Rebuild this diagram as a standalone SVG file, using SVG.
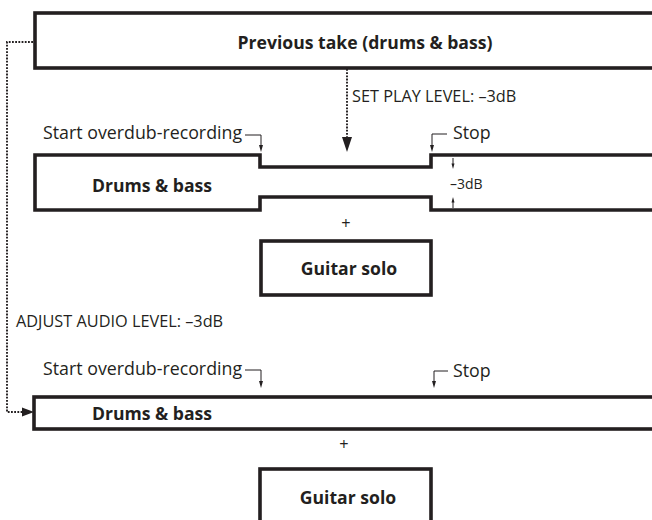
<svg xmlns="http://www.w3.org/2000/svg" width="652" height="520" viewBox="0 0 652 520">
<style>
.box{fill:#fff;stroke:#231f20;stroke-width:3.6;stroke-linejoin:miter}
.lbl{font-family:"Open Sans","Liberation Sans",sans-serif;font-weight:bold;font-size:17.6px;fill:#231f20;text-anchor:middle}
.txt{font-family:"Open Sans","Liberation Sans",sans-serif;font-size:17.8px;fill:#231f20}
.cap{font-family:"Open Sans","Liberation Sans",sans-serif;font-size:16.3px;fill:#231f20}
.dot{fill:none;stroke:#231f20;stroke-width:1.9;stroke-dasharray:1.8 1.4}
.thin{fill:none;stroke:#231f20;stroke-width:1}
.head{fill:#231f20}
</style>
<rect width="652" height="520" fill="#fff"/>
<g id="previous-take">
<rect class="box" x="35" y="13" width="640" height="55"/>
<text class="lbl" x="365" y="49">Previous take (drums &amp; bass)</text>
</g>
<g id="drums-bass-1">
<path class="box" d="M660,155 H431 V167 H260 V155 H35 V210 H260 V197 H431 V210 H660"/>
<text class="lbl" x="152" y="192">Drums &amp; bass</text>
</g>
<g id="guitar-solo-1">
<rect class="box" x="261" y="241" width="170" height="54"/>
<text class="lbl" x="349" y="275">Guitar solo</text>
</g>
<g id="drums-bass-2">
<rect class="box" x="34" y="397" width="640" height="32"/>
<text class="lbl" x="152" y="420">Drums &amp; bass</text>
</g>
<g id="guitar-solo-2">
<rect class="box" x="260" y="469" width="171" height="60"/>
<text class="lbl" x="348" y="504">Guitar solo</text>
</g>
<g id="labels">
<text class="cap" x="352" y="102">SET PLAY LEVEL: –3dB</text>
<text class="txt" x="43" y="139">Start overdub-recording</text>
<text class="txt" x="453" y="139">Stop</text>
<text class="cap" x="450" y="189" style="font-size:14px">–3dB</text>
<text class="cap" x="346" y="229" text-anchor="middle">+</text>
<text class="cap" x="16" y="327">ADJUST AUDIO LEVEL: –3dB</text>
<text class="txt" x="43" y="375">Start overdub-recording</text>
<text class="txt" x="453" y="377">Stop</text>
<text class="cap" x="344" y="450" text-anchor="middle">+</text>
</g>
<g id="connectors">
<path class="dot" d="M33,42 H7 V412 H23"/>
<path class="head" d="M34,412 L22,407.5 L22,416.5 Z"/>
<path class="dot" d="M347,69 V138"/>
<path class="head" d="M347,152 L342,137 L352,137 Z"/>
<path class="thin" d="M245,135 H261 V146"/>
<path class="head" d="M261,152 L259,145 L263,145 Z"/>
<path class="thin" d="M447,134 H432 V146"/>
<path class="head" d="M432,152 L430,145 L434,145 Z"/>
<path class="thin" d="M453,158 V164"/>
<path class="head" d="M453,169 L451.5,163.5 L454.5,163.5 Z"/>
<path class="thin" d="M453,208 V202"/>
<path class="head" d="M453,197 L451.5,202.5 L454.5,202.5 Z"/>
<path class="thin" d="M245,370 H261 V382"/>
<path class="head" d="M261,388 L259,381 L263,381 Z"/>
<path class="thin" d="M448,371 H434 V382"/>
<path class="head" d="M434,388 L432,381 L436,381 Z"/>
</g>
</svg>
